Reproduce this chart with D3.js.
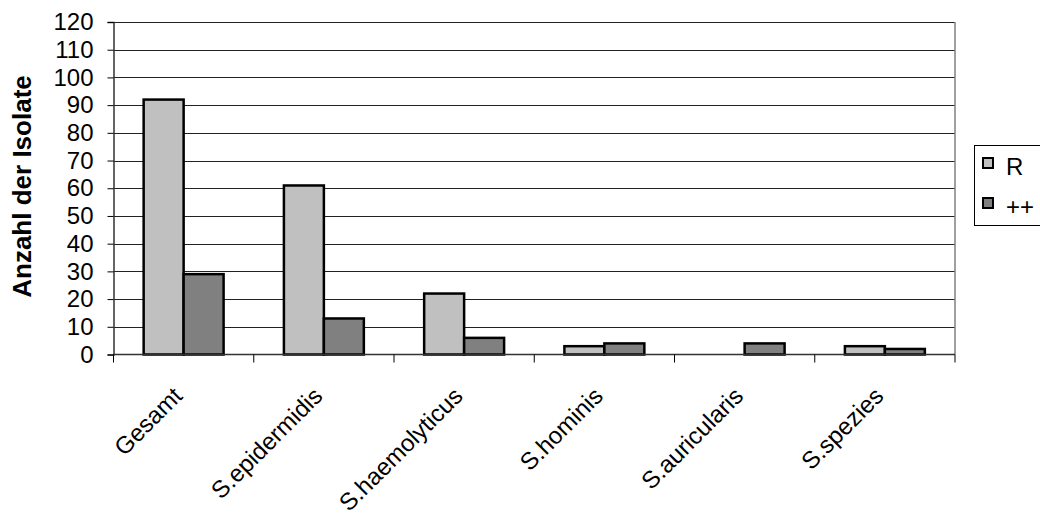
<!DOCTYPE html>
<html>
<head>
<meta charset="utf-8">
<script src="https://cdn.jsdelivr.net/npm/d3@7/dist/d3.min.js"></script>
<style>
  html, body { margin: 0; padding: 0; background: #fff; }
  svg { display: block; font-family: "Liberation Sans", Arial, sans-serif; }
</style>
</head>
<body>
<svg id="chart" width="1040" height="525"></svg>
<script>
// Isolate counts per species group
const categories = ["Gesamt", "S.epidermidis", "S.haemolyticus", "S.hominis", "S.auricularis", "S.spezies"];
const seriesNames = ["R", "++"];
const valuesR = [92, 61, 22, 3, 0, 3];
const valuesPP = [29, 13, 6, 4, 4, 2];
const yTicks = [0, 10, 20, 30, 40, 50, 60, 70, 80, 90, 100, 110, 120];
const yTitle = "Anzahl der Isolate";

const colors = { "R": "#c0c0c0", "++": "#808080" };
const seriesValues = { "R": valuesR, "++": valuesPP };

const svg = d3.select("#chart");
const plot = { left: 113.5, right: 955, top: 22, bottom: 354.5 };

const x0 = d3.scaleBand()
  .domain(categories)
  .range([plot.left, plot.right])
  .paddingInner(0.43)
  .paddingOuter(0.215);
const x1 = d3.scaleBand()
  .domain(seriesNames)
  .range([0, x0.bandwidth()]);
const y = d3.scaleLinear().domain([0, 120]).range([plot.bottom, plot.top]);

// horizontal gridlines
svg.append("g").selectAll("line")
  .data(yTicks.filter(t => t > 0))
  .join("line")
  .attr("x1", plot.left).attr("x2", plot.right)
  .attr("y1", d => Math.round(y(d)) + 0.5).attr("y2", d => Math.round(y(d)) + 0.5)
  .attr("stroke", "#222").attr("stroke-width", 1);

// right border of plot area
svg.append("line")
  .attr("x1", plot.right).attr("x2", plot.right)
  .attr("y1", y(120)).attr("y2", y(0))
  .attr("stroke", "#808080").attr("stroke-width", 1.5);

// bars
const groups = svg.append("g").selectAll("g")
  .data(categories)
  .join("g")
  .attr("transform", d => `translate(${x0(d)},0)`);
groups.selectAll("rect")
  .data((c, i) => seriesNames.map(s => ({ s, v: seriesValues[s][i] })).filter(d => d.v > 0))
  .join("rect")
  .attr("x", d => x1(d.s))
  .attr("width", x1.bandwidth())
  .attr("y", d => y(d.v))
  .attr("height", d => y(0) - y(d.v))
  .attr("fill", d => colors[d.s])
  .attr("stroke", "#000")
  .attr("stroke-width", 2.5);

// y axis
const yAxis = d3.axisLeft(y).tickValues(yTicks).tickSize(6).tickPadding(14);
const gy = svg.append("g").attr("transform", `translate(${plot.left},0)`).call(yAxis);
gy.select(".domain").attr("stroke", "#333").attr("stroke-width", 1.5);
gy.selectAll(".tick line").attr("stroke", "#000");
gy.selectAll(".tick text")
  .attr("font-size", 24)
  .attr("font-family", "Liberation Sans, Arial, sans-serif")
  .attr("fill", "#000");

// x axis baseline and category separators
svg.append("line")
  .attr("x1", plot.left).attr("x2", plot.right)
  .attr("y1", y(0)).attr("y2", y(0))
  .attr("stroke", "#333").attr("stroke-width", 1.5);
const step = x0.step();
svg.append("g").selectAll("line")
  .data(d3.range(categories.length + 1))
  .join("line")
  .attr("x1", i => plot.left + i * step).attr("x2", i => plot.left + i * step)
  .attr("y1", y(0)).attr("y2", y(0) + 8)
  .attr("stroke", "#000").attr("stroke-width", 1);

// category labels, rotated
svg.append("g").selectAll("text")
  .data(categories)
  .join("text")
  .attr("transform", d => `translate(${x0(d) + x0.bandwidth() / 2},${plot.bottom + 43}) rotate(-45)`)
  .attr("text-anchor", "end")
  .attr("font-size", 24)
  .attr("fill", "#000")
  .text(d => d);

// y axis title
svg.append("text")
  .attr("transform", `translate(31,${186.5}) rotate(-90)`)
  .attr("text-anchor", "middle")
  .attr("font-size", 26)
  .attr("font-weight", "bold")
  .attr("fill", "#000")
  .text(yTitle);

// legend
const legend = svg.append("g").attr("transform", "translate(974,145)");
legend.append("rect")
  .attr("x", 0.5).attr("y", 0.5)
  .attr("width", 80).attr("height", 80)
  .attr("fill", "#fff").attr("stroke", "#000").attr("stroke-width", 1);
const items = legend.selectAll("g.item")
  .data(seriesNames)
  .join("g")
  .attr("class", "item")
  .attr("transform", (d, i) => `translate(9,${13 + i * 40})`);
items.append("rect")
  .attr("width", 10).attr("height", 10)
  .attr("fill", d => colors[d])
  .attr("stroke", "#000").attr("stroke-width", 2);
items.append("text")
  .attr("x", 23).attr("y", 17)
  .attr("font-size", 24)
  .attr("fill", "#000")
  .text(d => d);
</script>
</body>
</html>
